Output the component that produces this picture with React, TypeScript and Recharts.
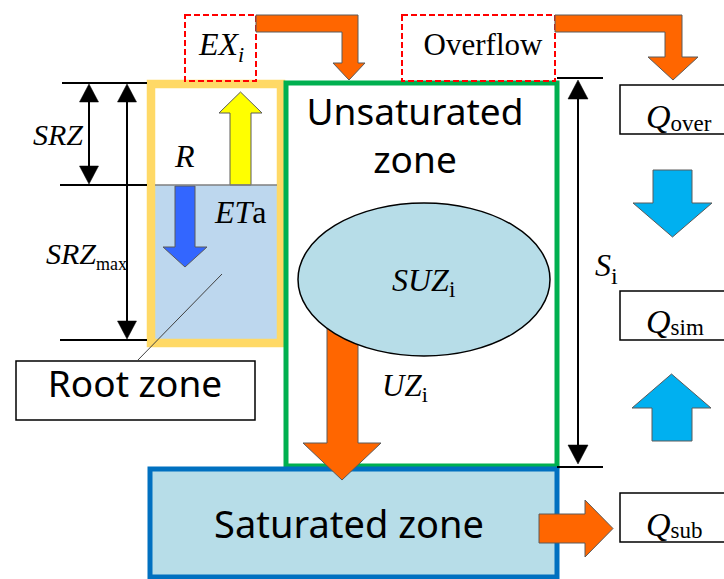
import React from 'react';
import { ScatterChart, Scatter, XAxis, YAxis, ReferenceArea, ReferenceLine } from 'recharts';

const W = 724;
const H = 579;

type Box = { id: string; x1: number; x2: number; y1: number; y2: number; fill: string; stroke: string; sw: number; dash?: string };
const boxes: Box[] = [
  { id: 'rootWater', x1: 151, x2: 281, y1: 185, y2: 343, fill: '#BDD7EE', stroke: 'none', sw: 0 },
  { id: 'rootBorder', x1: 151, x2: 281, y1: 84, y2: 343, fill: 'none', stroke: '#FFD966', sw: 8.5 },
  { id: 'unsat', x1: 286, x2: 557, y1: 83, y2: 466, fill: 'none', stroke: '#00B050', sw: 5 },
  { id: 'sat', x1: 150, x2: 557, y1: 469, y2: 577, fill: '#B7DDE8', stroke: '#0070C0', sw: 5 },
  { id: 'exBox', x1: 185, x2: 256, y1: 15, y2: 81, fill: 'none', stroke: '#FF0000', sw: 2, dash: '6 3' },
  { id: 'overflowBox', x1: 402, x2: 555, y1: 15, y2: 81, fill: 'none', stroke: '#FF0000', sw: 2, dash: '6 3' },
  { id: 'rootLabel', x1: 16, x2: 255, y1: 361, y2: 420, fill: '#FFFFFF', stroke: '#000000', sw: 1.5 },
  { id: 'qOver', x1: 620, x2: 732, y1: 85, y2: 134, fill: '#FFFFFF', stroke: '#000000', sw: 1.5 },
  { id: 'qSim', x1: 620, x2: 732, y1: 291, y2: 340, fill: '#FFFFFF', stroke: '#000000', sw: 1.5 },
  { id: 'qSub', x1: 620, x2: 732, y1: 493, y2: 542, fill: '#FFFFFF', stroke: '#000000', sw: 1.5 },
];

type Arrow = { id: string; dir: 'up' | 'down' | 'right'; x1: number; x2: number; y1: number; y2: number; s1: number; s2: number; head: number; fill: string };
const arrows: Arrow[] = [
  { id: 'et', dir: 'up', x1: 219, x2: 262, y1: 92, y2: 185, s1: 230, s2: 251, head: 21, fill: '#FFFF00' },
  { id: 'r', dir: 'down', x1: 163, x2: 207, y1: 186, y2: 267, s1: 175, s2: 195, head: 20, fill: '#3366FF' },
  { id: 'qDown', dir: 'down', x1: 633, x2: 712, y1: 170, y2: 237, s1: 653, s2: 692, head: 34, fill: '#00B0F0' },
  { id: 'qUp', dir: 'up', x1: 632, x2: 711, y1: 374, y2: 441, s1: 652, s2: 692, head: 34, fill: '#00B0F0' },
  { id: 'uz', dir: 'down', x1: 303, x2: 381, y1: 320, y2: 480, s1: 327, s2: 358, head: 37, fill: '#FF6600' },
  { id: 'sub', dir: 'right', x1: 539, x2: 613, y1: 500, y2: 557, s1: 514, s2: 543, head: 28, fill: '#FF6600' },
];

type Bent = { id: string; pts: [number, number][]; fill: string };
const bentArrows: Bent[] = [
  { id: 'exFlow', fill: '#FF6600', pts: [[256, 15], [358, 15], [358, 63], [365, 63], [349, 80], [333, 63], [342, 63], [342, 32], [256, 32]] },
  { id: 'overFlow', fill: '#FF6600', pts: [[555, 15], [682, 15], [682, 57], [698, 57], [673, 80], [648, 57], [665, 57], [665, 32], [555, 32]] },
];

const ellipses = [{ id: 'suz', x1: 298, x2: 550, y1: 203, y2: 356, fill: '#B7DDE8', stroke: '#000000' }];

type Seg = { id: string; x1: number; y1: number; x2: number; y2: number; color: string; w: number };
const segments: Seg[] = [
  { id: 'srzTop', x1: 62, y1: 83, x2: 147, y2: 83, color: '#000000', w: 2 },
  { id: 'srzMid', x1: 60, y1: 185, x2: 147, y2: 185, color: '#000000', w: 2 },
  { id: 'srzBot', x1: 60, y1: 340, x2: 147, y2: 340, color: '#000000', w: 2 },
  { id: 'srzDim', x1: 89, y1: 95, x2: 89, y2: 175, color: '#000000', w: 2 },
  { id: 'srzMaxDim', x1: 127, y1: 95, x2: 127, y2: 330, color: '#000000', w: 2 },
  { id: 'siTop', x1: 557, y1: 78, x2: 603, y2: 78, color: '#000000', w: 2 },
  { id: 'siDim', x1: 578, y1: 90, x2: 578, y2: 455, color: '#000000', w: 2 },
  { id: 'siBot', x1: 557, y1: 467, x2: 603, y2: 467, color: '#000000', w: 2 },
  { id: 'waterLine', x1: 155, y1: 185, x2: 277, y2: 185, color: '#7F7F7F', w: 1.5 },
  { id: 'leader', x1: 137, y1: 361, x2: 222, y2: 274, color: '#404040', w: 1 },
];

type Head = { id: string; x: number; tip: number; base: number; hw: number };
const dimHeads: Head[] = [
  { id: 'h1', x: 89, tip: 84, base: 102, hw: 9.5 },
  { id: 'h2', x: 89, tip: 184, base: 166, hw: 9.5 },
  { id: 'h3', x: 127, tip: 84, base: 102, hw: 9.5 },
  { id: 'h4', x: 127, tip: 339, base: 321, hw: 9.5 },
  { id: 'h5', x: 578, tip: 80, base: 99, hw: 10 },
  { id: 'h6', x: 578, tip: 464, base: 445, hw: 10 },
];

type Part = { t: string; it?: boolean; sub?: boolean };
type Lbl = { id: string; x: number; y: number; font: 'sans' | 'serif'; size: number; anchor: 'start' | 'middle'; parts: Part[]; subSize?: number; subDy?: number };
const labels: Lbl[] = [
  { id: 'unsat1', x: 415, y: 125, font: 'sans', size: 37, anchor: 'middle', parts: [{ t: 'Unsaturated' }] },
  { id: 'unsat2', x: 415, y: 173, font: 'sans', size: 37, anchor: 'middle', parts: [{ t: 'zone' }] },
  { id: 'root', x: 135, y: 397, font: 'sans', size: 37, anchor: 'middle', parts: [{ t: 'Root zone' }] },
  { id: 'sat', x: 349, y: 538, font: 'sans', size: 38, anchor: 'middle', parts: [{ t: 'Saturated zone' }] },
  { id: 'ex', x: 199, y: 55, font: 'serif', size: 32, anchor: 'start', parts: [{ t: 'EX', it: true }, { t: 'i', it: true, sub: true }], subSize: 22, subDy: 7 },
  { id: 'overflow', x: 483, y: 55, font: 'serif', size: 31, anchor: 'middle', parts: [{ t: 'Overflow' }] },
  { id: 'R', x: 175, y: 167, font: 'serif', size: 32, anchor: 'start', parts: [{ t: 'R', it: true }] },
  { id: 'ETa', x: 215, y: 223, font: 'serif', size: 32, anchor: 'start', parts: [{ t: 'ET', it: true }, { t: 'a' }] },
  { id: 'SRZ', x: 33, y: 145, font: 'serif', size: 30, anchor: 'start', parts: [{ t: 'SRZ', it: true }] },
  { id: 'SRZmax', x: 46, y: 264, font: 'serif', size: 30, anchor: 'start', parts: [{ t: 'SRZ', it: true }, { t: 'max', sub: true }], subSize: 18, subDy: 6 },
  { id: 'SUZ', x: 392, y: 291, font: 'serif', size: 32, anchor: 'start', parts: [{ t: 'SUZ', it: true }, { t: 'i', sub: true }], subSize: 23, subDy: 6 },
  { id: 'UZ', x: 382, y: 396, font: 'serif', size: 31, anchor: 'start', parts: [{ t: 'UZ', it: true }, { t: 'i', sub: true }], subSize: 22, subDy: 6 },
  { id: 'Si', x: 595, y: 276, font: 'serif', size: 32, anchor: 'start', parts: [{ t: 'S', it: true }, { t: 'i', sub: true }], subSize: 24, subDy: 8 },
  { id: 'Qover', x: 646, y: 128, font: 'serif', size: 34, anchor: 'start', parts: [{ t: 'Q', it: true }, { t: 'over', sub: true }], subSize: 23, subDy: 3 },
  { id: 'Qsim', x: 646, y: 333, font: 'serif', size: 34, anchor: 'start', parts: [{ t: 'Q', it: true }, { t: 'sim', sub: true }], subSize: 23, subDy: 2 },
  { id: 'Qsub', x: 646, y: 536, font: 'serif', size: 34, anchor: 'start', parts: [{ t: 'Q', it: true }, { t: 'sub', sub: true }], subSize: 23, subDy: 2 },
];

const SANS = '"Noto Sans", "DejaVu Sans", sans-serif';
const SERIF = '"Liberation Serif", "Times New Roman", serif';

type Pt = [number, number];

function arrowPoints(a: Arrow): Pt[] {
  if (a.dir === 'down') {
    const cx = (a.x1 + a.x2) / 2;
    const b = a.y2 - a.head;
    return [[a.s1, a.y1], [a.s2, a.y1], [a.s2, b], [a.x2, b], [cx, a.y2], [a.x1, b], [a.s1, b]];
  }
  if (a.dir === 'up') {
    const cx = (a.x1 + a.x2) / 2;
    const b = a.y1 + a.head;
    return [[cx, a.y1], [a.x2, b], [a.s2, b], [a.s2, a.y2], [a.s1, a.y2], [a.s1, b], [a.x1, b]];
  }
  const cy = (a.y1 + a.y2) / 2;
  const b = a.x2 - a.head;
  return [[a.x1, a.s1], [b, a.s1], [b, a.y1], [a.x2, cy], [b, a.y2], [b, a.s2], [a.x1, a.s2]];
}

function headPoints(h: Head): Pt[] {
  return [[h.x - h.hw, h.base], [h.x + h.hw, h.base], [h.x, h.tip]];
}

function polyArea(key: string, pts: Pt[], fill: string, stroke: string, sw: number) {
  const xs = pts.map((p) => p[0]);
  const ys = pts.map((p) => p[1]);
  const bx = { x1: Math.min(...xs), x2: Math.max(...xs), y1: Math.min(...ys), y2: Math.max(...ys) };
  const shape = (props: any) => {
    const { x, y, width, height } = props;
    const sx = width / (bx.x2 - bx.x1);
    const sy = height / (bx.y2 - bx.y1);
    const d = pts.map(([px, py]) => `${x + (px - bx.x1) * sx},${y + (py - bx.y1) * sy}`).join(' ');
    return <polygon points={d} fill={fill} stroke={stroke} strokeWidth={sw} strokeLinejoin="miter" />;
  };
  return (
    <ReferenceArea key={key} x1={bx.x1} x2={bx.x2} y1={bx.y1} y2={bx.y2} ifOverflow="visible" shape={shape} />
  );
}

const LabelShape = (props: any) => {
  const { cx, cy, payload } = props;
  const l = payload as Lbl;
  if (!l || cx == null) return <g />;
  const family = l.font === 'sans' ? SANS : SERIF;
  return (
    <text x={cx} y={cy} textAnchor={l.anchor} fontFamily={family} fontSize={l.size} fill="#000000">
      {l.parts.map((p, i) => {
        const prevSub = i > 0 && l.parts[i - 1].sub;
        const dy = p.sub ? (l.subDy || 0) : prevSub ? -(l.subDy || 0) : 0;
        return (
          <tspan key={i} fontStyle={p.it ? 'italic' : 'normal'} fontSize={p.sub ? l.subSize : l.size} dy={dy}>
            {p.t}
          </tspan>
        );
      })}
    </text>
  );
};

export default function App() {
  return (
    <div style={{ position: 'absolute', left: 0, top: 0, width: W, height: H, background: '#FFFFFF' }}>
      <ScatterChart width={W} height={H} margin={{ top: 0, right: 0, bottom: 0, left: 0 }}>
        <XAxis type="number" dataKey="x" domain={[0, W]} hide allowDataOverflow />
        <YAxis type="number" dataKey="y" domain={[0, H]} reversed hide allowDataOverflow />
        {boxes.map((b) => (
          <ReferenceArea
            key={b.id}
            x1={b.x1}
            x2={b.x2}
            y1={b.y1}
            y2={b.y2}
            ifOverflow="visible"
            fill={b.fill}
            fillOpacity={1}
            stroke={b.stroke}
            strokeWidth={b.sw}
            strokeDasharray={b.dash}
          />
        ))}
        {arrows.map((a) => polyArea(a.id, arrowPoints(a), a.fill, '#5A5A5A', 1))}
        {bentArrows.map((a) => polyArea(a.id, a.pts, a.fill, '#5A5A5A', 1))}
        {ellipses.map((e) => (
          <ReferenceArea
            key={e.id}
            x1={e.x1}
            x2={e.x2}
            y1={e.y1}
            y2={e.y2}
            ifOverflow="visible"
            shape={(p: any) => (
              <ellipse cx={p.x + p.width / 2} cy={p.y + p.height / 2} rx={p.width / 2} ry={p.height / 2} fill={e.fill} stroke={e.stroke} strokeWidth={1.5} />
            )}
          />
        ))}
        {dimHeads.map((h) => polyArea(h.id, headPoints(h), '#000000', '#000000', 0.5))}
        {segments.map((s) => (
          <ReferenceLine
            key={s.id}
            segment={[{ x: s.x1, y: s.y1 }, { x: s.x2, y: s.y2 }]}
            stroke={s.color}
            strokeWidth={s.w}
            ifOverflow="visible"
          />
        ))}
        <Scatter data={labels} shape={LabelShape} isAnimationActive={false} />
      </ScatterChart>
    </div>
  );
}
